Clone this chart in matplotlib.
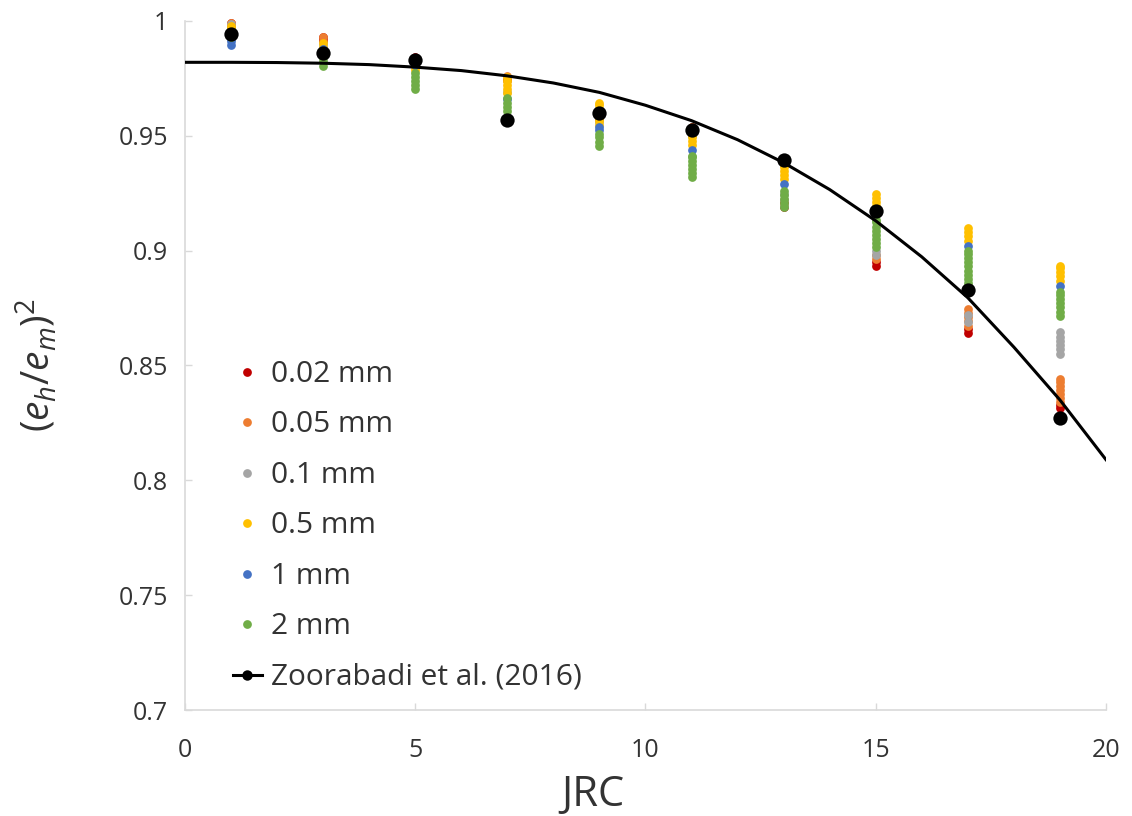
import matplotlib
matplotlib.use("Agg")
import matplotlib.pyplot as plt
from matplotlib.lines import Line2D
from matplotlib.ticker import FuncFormatter

# ---------------- data ----------------
jrc = [1, 3, 5, 7, 9, 11, 13, 15, 17, 19]

# values of (e_h/e_m)^2 for each aperture series, one list per JRC value
s002 = [[0.9975, 0.999], [0.9915, 0.993], [0.9845], [0.9745], [0.958, 0.960],
        [0.952, 0.954], [0.919, 0.921], [0.8935, 0.895], [0.8643, 0.866],
        [0.8315, 0.833]]
s005 = [[0.9975, 0.999], [0.9912, 0.993], [0.984], [0.9745, 0.976], [0.957, 0.961],
        [0.951, 0.954], [0.920, 0.922], [0.8964, 0.898],
        [0.8674, 0.8692, 0.871, 0.8728, 0.8746],
        [0.8339, 0.8357, 0.8375, 0.8393, 0.8411, 0.8429, 0.844]]
s01 = [[0.997, 0.9985], [0.988, 0.990], [0.982], [0.969], [0.956, 0.959],
       [0.950, 0.953], [0.9195, 0.922, 0.9245], [0.898, 0.900], [0.869, 0.872],
       [0.8552, 0.857, 0.8588, 0.8606, 0.8624, 0.8644]]
s05 = [[0.9965, 0.998], [0.9885, 0.9903], [0.9785, 0.980],
       [0.9685, 0.9703, 0.9721, 0.9739, 0.9755],
       [0.9545, 0.9563, 0.9581, 0.9599, 0.9617, 0.9635, 0.9645],
       [0.946, 0.9478, 0.9496, 0.9514, 0.953],
       [0.931, 0.9328, 0.9346, 0.9364, 0.938],
       [0.9195, 0.9213, 0.9231, 0.9246],
       [0.9044, 0.9062, 0.908, 0.910],
       [0.887, 0.8888, 0.8906, 0.8924, 0.8933]]
s1 = [[0.9896, 0.9912, 0.993], [0.986, 0.988], [0.981], [0.966], [0.9525, 0.954],
      [0.944], [0.929], [0.916], [0.902], [0.8845]]
s2 = [[0.993, 0.995], [0.9806, 0.9824, 0.9842],
      [0.9704, 0.9722, 0.974, 0.9758, 0.9775],
      [0.9609, 0.9627, 0.9645, 0.9663],
      [0.9457, 0.9475, 0.9493, 0.951],
      [0.9319, 0.9337, 0.9355, 0.9373, 0.9391, 0.9409, 0.9412],
      [0.9189, 0.9207, 0.9225, 0.9243, 0.926],
      [0.9015, 0.9033, 0.9051, 0.9069, 0.9087, 0.9105, 0.9123, 0.9135],
      [0.8859, 0.8877, 0.8895, 0.8913, 0.8931, 0.8949, 0.8967, 0.8985, 0.900],
      [0.8717, 0.8735, 0.8753, 0.8771, 0.8789, 0.8807, 0.882]]

series_labels = ["0.02 mm", "0.05 mm", "0.1 mm", "0.5 mm", "1 mm", "2 mm"]
series_values = [s002, s005, s01, s05, s1, s2]
series_colors = ["#C00000", "#ED7D31", "#A5A5A5", "#FFC000", "#4472C4", "#70AD47"]

# Zoorabadi et al. (2016)
zoo_jrc = [1, 3, 5, 7, 9, 11, 13, 15, 17, 19]
zoo_val = [0.9943, 0.9859, 0.983, 0.957, 0.9598, 0.9527, 0.9395, 0.9174, 0.8829, 0.8272]

# trend curve
curve_jrc = list(range(21))
curve_val = [0.982, 0.982, 0.9819, 0.9816, 0.981, 0.9799, 0.9784, 0.9761, 0.9730,
             0.9689, 0.9633, 0.9566, 0.9483, 0.9383, 0.9266, 0.913, 0.8973, 0.8795,
             0.858, 0.835, 0.809]

x_ticks = [0, 5, 10, 15, 20]
y_ticks = [0.7, 0.75, 0.8, 0.85, 0.9, 0.95, 1.0]

# ---------------- plot ----------------
plt.rcParams["font.family"] = ["Open Sans", "DejaVu Sans"]
plt.rcParams["mathtext.fontset"] = "custom"
plt.rcParams["mathtext.rm"] = "Open Sans"
plt.rcParams["mathtext.it"] = "Open Sans:italic"

fig = plt.figure(figsize=(11.32, 8.16), dpi=100)
ax = fig.add_axes([0.1634, 0.1299, 0.8136, 0.8444])

text_color = "#333333"
handles = []
for label, vals, col in zip(series_labels, series_values, series_colors):
    xs, ys = [], []
    for j, v in zip(jrc, vals):
        xs.extend([j] * len(v))
        ys.extend(v)
    h, = ax.plot(xs, ys, linestyle="none", marker="o", markersize=6.3,
                 markeredgewidth=0, color=col, label=label, clip_on=False, zorder=3)
    handles.append(h)

ax.plot(curve_jrc, curve_val, color="black", linewidth=2.2, zorder=4)
ax.plot(zoo_jrc, zoo_val, linestyle="none", marker="o", markersize=10.3,
        markeredgewidth=0, color="black", zorder=5)
handles.append(Line2D([], [], color="black", linewidth=2.2, marker="o",
                      markersize=7.5, markeredgewidth=0))
labels = series_labels + ["Zoorabadi et al. (2016)"]

ax.set_xlim(0, 20)
ax.set_ylim(0.7, 1.0)
ax.set_xticks(x_ticks)
ax.set_yticks(y_ticks)
ax.yaxis.set_major_formatter(FuncFormatter(lambda v, p: f"{v:g}"))

for s in ["top", "right"]:
    ax.spines[s].set_visible(False)
for s in ["left", "bottom"]:
    ax.spines[s].set_color("#D9D9D9")
    ax.spines[s].set_linewidth(1.2)
ax.tick_params(direction="in", length=5, width=1, color="#D9D9D9",
               labelsize=18, labelcolor=text_color)
ax.tick_params(axis="x", pad=20)
ax.tick_params(axis="y", pad=12)

ax.set_xlabel("JRC", fontsize=30, color=text_color, labelpad=8, x=0.443)
ax.set_ylabel(r"$(e_h/e_m)^2$", fontsize=28, color=text_color, labelpad=43)

leg = ax.legend(handles, labels, loc="upper left", bbox_to_anchor=(0.0225, 0.547),
                frameon=False, fontsize=21.5, labelspacing=0.72, handlelength=1.0,
                handletextpad=0.3, labelcolor=text_color)

fig.savefig("out.png", dpi=100)
